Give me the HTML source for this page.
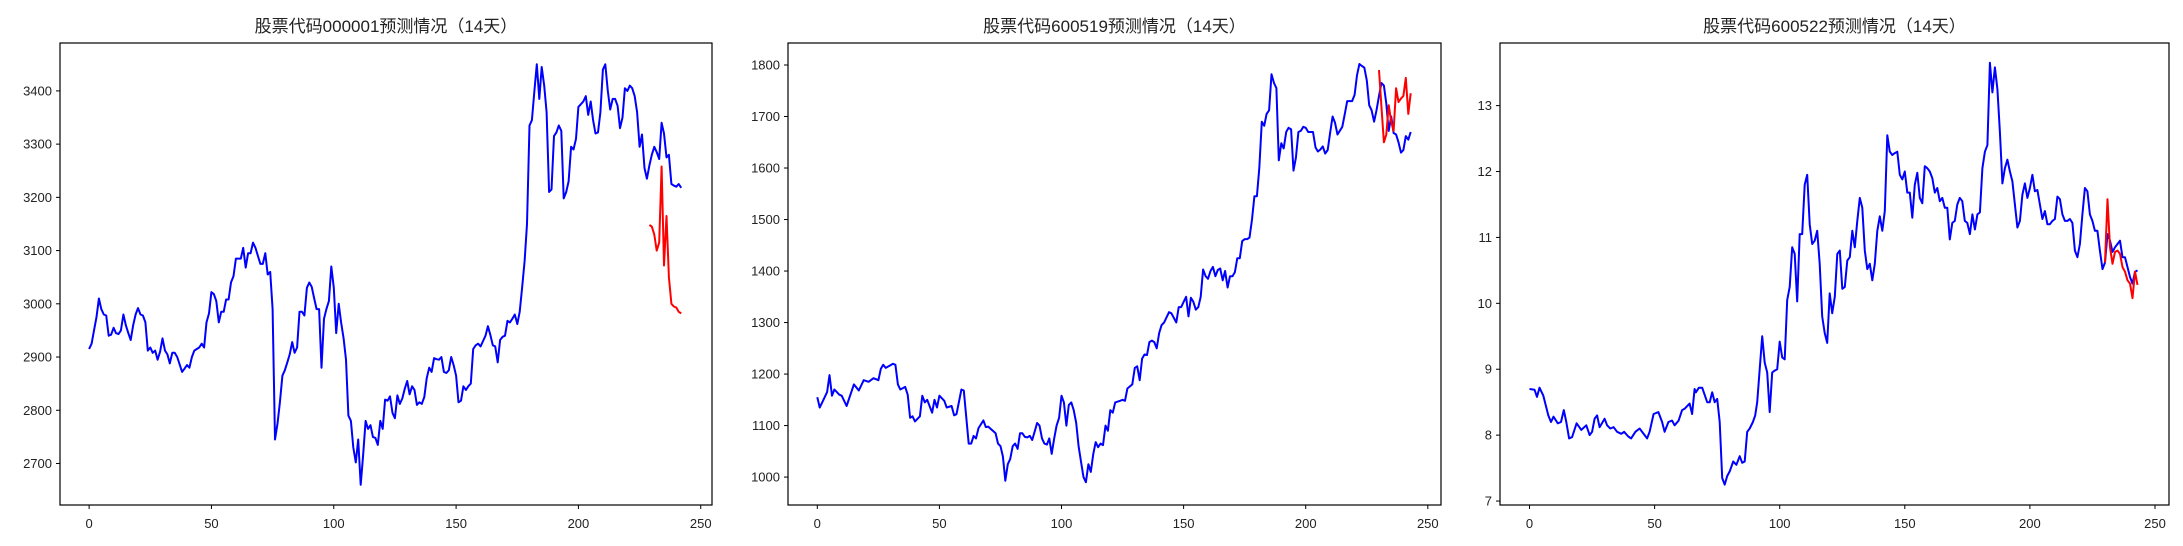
<!DOCTYPE html>
<html><head><meta charset="utf-8">
<style>
html,body{margin:0;padding:0;background:#fff;}
svg{display:block;}
text{font-family:"Liberation Sans","Noto Sans CJK SC",sans-serif;fill:#222;}
</style></head>
<body>
<svg id="chart" width="2183" height="546" viewBox="0 0 2183 546" xmlns="http://www.w3.org/2000/svg"></svg>
<script>
// Panel 1: 000001
const p1Days = [0,1,2,3,4,5,6,7,8,9,10,11,12,13,14,15,16,17,18,19,20,21,22,23,24,25,26,27,28,29,30,31,32,33,34,35,36,38,39,40,41,42,43,45,46,47,48,49,50,51,52,53,54,55,56,57,58,59,60,61,62,63,64,65,66,67,68,69,70,71,72,73,74,75,76,77,78,79,80,81,82,83,84,85,86,87,88,89,90,91,92,93,94,95,96,97,98,99,100,101,102,103,104,105,106,107,108,109,110,111,112,113,114,115,116,117,118,119,120,121,122,123,124,125,126,127,128,129,130,131,132,133,134,135,136,137,138,139,140,141,142,143,144,145,146,147,148,149,150,151,152,153,154,155,156,157,158,159,160,161,162,163,164,165,166,167,168,169,170,171,172,173,174,175,176,177,178,179,180,181,182,183,184,185,186,187,188,189,190,191,192,193,194,195,196,197,198,199,200,201,202,203,204,205,206,207,208,209,210,211,212,213,214,215,216,217,218,219,220,221,222,223,224,225,226,227,228,229,230,231,232,233,234,235,236,237,238,239,240,241,242];
const p1Actual = [2915,2925,2950,2975,3010,2990,2980,2978,2940,2942,2955,2945,2943,2950,2980,2960,2945,2932,2960,2980,2992,2980,2978,2965,2912,2918,2908,2912,2895,2910,2935,2912,2905,2888,2908,2908,2900,2872,2878,2885,2880,2900,2912,2918,2925,2918,2965,2982,3022,3018,3005,2965,2985,2985,3008,3008,3040,3052,3085,3085,3085,3105,3068,3095,3095,3115,3105,3090,3075,3075,3095,3055,3060,2990,2745,2775,2815,2865,2875,2890,2905,2928,2908,2918,2985,2985,2978,3030,3040,3032,3010,2990,2990,2880,2972,2990,3005,3070,3030,2945,3000,2965,2935,2895,2790,2780,2730,2702,2745,2660,2715,2780,2765,2772,2750,2748,2735,2780,2765,2820,2818,2826,2795,2785,2828,2812,2822,2840,2855,2830,2845,2838,2810,2815,2812,2825,2860,2880,2872,2898,2896,2895,2900,2872,2870,2875,2900,2885,2865,2815,2818,2845,2838,2845,2850,2915,2922,2925,2920,2930,2940,2958,2942,2922,2920,2890,2932,2938,2940,2968,2965,2972,2980,2962,2985,3030,3080,3150,3335,3345,3400,3450,3385,3445,3410,3360,3210,3215,3315,3322,3335,3325,3198,3210,3230,3295,3290,3310,3370,3375,3380,3390,3355,3380,3345,3320,3322,3360,3440,3450,3400,3365,3385,3385,3372,3330,3350,3405,3400,3410,3405,3390,3360,3295,3318,3255,3235,3260,3280,3295,3285,3272,3340,3320,3275,3280,3225,3222,3220,3225,3218];
const p1PredDays = [229,230,231,232,233,234,235,236,237,238,239,240,241,242];
const p1Pred = [3148,3145,3130,3100,3115,3258,3072,3165,3050,3000,2995,2993,2985,2982];
const p1YTicks = [2700,2800,2900,3000,3100,3200,3300,3400];

// Panel 2: 600519
const p2Days = [0,1,2,4,5,6,7,9,10,12,15,17,19,21,23,25,26,27,28,31,32,33,34,36,37,38,39,40,42,43,44,45,47,48,49,50,52,53,55,56,57,59,60,62,63,64,65,66,68,69,70,73,74,75,76,77,78,79,80,81,82,83,84,85,86,87,88,89,90,91,92,93,94,95,96,97,98,99,100,101,102,103,104,105,106,107,108,109,110,111,112,113,114,115,116,117,118,119,120,121,122,124,125,126,127,129,130,131,132,133,134,135,136,137,138,139,140,141,142,143,144,145,147,148,149,150,151,152,153,154,155,156,157,158,159,160,161,162,163,164,165,166,167,168,169,170,171,172,173,174,175,176,177,178,179,180,181,182,183,184,185,186,187,188,189,190,191,192,193,194,195,196,197,198,199,200,201,203,204,205,206,207,208,209,210,211,212,213,215,216,217,219,220,221,222,223,224,225,226,227,228,229,230,231,232,233,234,235,236,237,238,239,240,241,242,243];
const p2Actual = [1155,1135,1145,1165,1198,1158,1170,1160,1158,1138,1180,1168,1188,1185,1192,1188,1210,1218,1212,1220,1218,1180,1170,1175,1160,1115,1118,1108,1118,1158,1145,1150,1125,1150,1135,1158,1148,1135,1138,1120,1122,1170,1168,1065,1065,1080,1075,1095,1110,1097,1098,1085,1065,1060,1040,993,1025,1035,1060,1065,1055,1085,1085,1078,1077,1080,1072,1088,1105,1100,1075,1065,1063,1075,1045,1075,1100,1115,1158,1145,1100,1140,1145,1130,1105,1060,1030,1000,990,1025,1010,1045,1068,1058,1065,1062,1100,1090,1130,1125,1145,1148,1150,1148,1172,1180,1212,1215,1188,1230,1238,1237,1262,1265,1262,1250,1280,1295,1300,1310,1320,1318,1300,1330,1330,1340,1350,1312,1348,1340,1325,1330,1350,1403,1390,1385,1400,1408,1390,1402,1405,1382,1400,1368,1390,1390,1398,1425,1425,1458,1462,1462,1465,1500,1545,1545,1600,1690,1682,1705,1712,1782,1765,1755,1615,1648,1638,1670,1678,1675,1595,1620,1670,1672,1680,1678,1670,1670,1640,1632,1636,1642,1628,1635,1668,1700,1688,1665,1680,1705,1730,1730,1742,1780,1802,1798,1795,1770,1722,1712,1690,1712,1740,1765,1760,1725,1672,1700,1668,1665,1650,1630,1635,1662,1655,1670];
const p2PredDays = [230,231,232,233,234,235,236,237,238,239,240,241,242,243];
const p2Pred = [1790,1720,1650,1665,1722,1690,1672,1755,1728,1735,1740,1775,1705,1745];
const p2YTicks = [1000,1100,1200,1300,1400,1500,1600,1700,1800];

// Panel 3: 600522
const p3Days = [0,2,3,4,5.5,6.5,7.5,8.6,9.6,11.3,12.6,13.7,14.7,15.8,17,18.8,20.7,22.7,24,25,26,27,28,30,31,32.3,33.6,35,36.7,37.8,39.5,40.6,42.3,44,46,47,48,49.6,51.5,53,54,55.5,57,58,59.6,61,62,64,65,66,66.5,67.7,69,71,72,73,74,75,76,77,78,79,80,81.4,82.7,84,85,86,87,88,89.3,90.2,91,92,93,94,95,96,97,98,99,100,101,102,103,104,105,106,107,108,109,110,111,112,113,114,115,116,117,118,119,120,121,122,123,124,125,126,127,128,129,130,131,132,133,134,135,136,137,138,139,140,141,142,143,144,145,146,147,148,149,150,151,152,153,154,155,156,157,158,159,160,161,162,163,164,165,166,167,168,169,170,171,172,173,174,175,176,177,178,179,180,181,182,183,184,185,186,187,188,189,190,191,192,193,194,195,196,197,198,199,200,201,202,203,204,205,206,207,208,209,210,211,212,213,214,215,216,217,218,219,220,221,222,223,224,225,226,227,228,229,230,231,232,233,234,235,236,237,238,239,240,241,242,243];
const p3Actual = [8.7,8.69,8.58,8.72,8.6,8.45,8.3,8.2,8.28,8.18,8.2,8.38,8.2,7.95,7.97,8.18,8.08,8.15,8.0,8.05,8.25,8.3,8.12,8.25,8.15,8.1,8.12,8.05,8.02,8.05,7.98,7.95,8.05,8.1,8.0,7.95,8.05,8.32,8.35,8.2,8.05,8.2,8.22,8.15,8.22,8.38,8.4,8.48,8.32,8.7,8.65,8.72,8.72,8.5,8.5,8.65,8.5,8.55,8.2,7.35,7.25,7.38,7.45,7.6,7.55,7.68,7.58,7.6,8.05,8.1,8.2,8.3,8.5,9.0,9.5,9.1,8.95,8.35,8.95,8.98,9.0,9.42,9.18,9.15,10.05,10.25,10.85,10.75,10.03,11.05,11.05,11.8,11.95,11.2,10.9,10.95,11.1,10.6,9.8,9.55,9.4,10.15,9.85,10.1,10.75,10.8,10.22,10.25,10.65,10.7,11.1,10.85,11.25,11.6,11.45,10.8,10.52,10.6,10.35,10.6,11.1,11.32,11.1,11.4,12.55,12.3,12.25,12.28,12.3,11.95,11.88,12.0,11.68,11.68,11.3,11.8,11.98,11.6,11.52,12.08,12.05,12.0,11.9,11.68,11.75,11.55,11.6,11.45,11.45,10.97,11.22,11.25,11.5,11.6,11.55,11.25,11.22,11.05,11.35,11.12,11.35,11.38,12.05,12.3,12.4,13.65,13.2,13.58,13.25,12.6,11.82,12.05,12.18,12.0,11.85,11.5,11.15,11.25,11.65,11.82,11.6,11.75,11.95,11.7,11.72,11.5,11.28,11.4,11.2,11.2,11.25,11.28,11.62,11.58,11.35,11.25,11.25,11.28,11.22,10.8,10.7,10.9,11.35,11.75,11.7,11.35,11.25,11.1,11.1,10.8,10.52,10.62,11.05,10.95,10.78,10.85,10.9,10.95,10.7,10.7,10.55,10.4,10.3,10.48,10.5];
const p3PredDays = [230,231,232,233,234,235,236,237,238,239,240,241,242,243];
const p3Pred = [10.62,11.58,10.85,10.6,10.78,10.8,10.75,10.55,10.48,10.35,10.3,10.08,10.48,10.28];
const p3YTicks = [7,8,9,10,11,12,13];

const xTickLabels = [0,50,100,150,200,250];
const titles = ["股票代码000001预测情况（14天）","股票代码600519预测情况（14天）","股票代码600522预测情况（14天）"];

const NS = "http://www.w3.org/2000/svg";
const svg = document.getElementById('chart');
function mk(tag, attrs, parent){
  const e = document.createElementNS(NS, tag);
  for (const k in attrs) e.setAttribute(k, attrs[k]);
  (parent||svg).appendChild(e);
  return e;
}

const panels = [
  {box:[60,43,712,505], xd:[-11.9,254.6], yd:[2622,3490], days:p1Days, act:p1Actual, pd:p1PredDays, pv:p1Pred, yt:p1YTicks, key:'000001'},
  {box:[788,43,1441,505], xd:[-12.0,255.4], yd:[945.8,1842.7], days:p2Days, act:p2Actual, pd:p2PredDays, pv:p2Pred, yt:p2YTicks, key:'600519'},
  {box:[1500,43,2169,505], xd:[-11.8,255.6], yd:[6.94,13.95], days:p3Days, act:p3Actual, pd:p3PredDays, pv:p3Pred, yt:p3YTicks, key:'600522'}
];

panels.forEach((p, i) => {
  const [L,T,R,B] = p.box;
  const xs = v => L + (v - p.xd[0]) / (p.xd[1] - p.xd[0]) * (R - L);
  const ys = v => B - (v - p.yd[0]) / (p.yd[1] - p.yd[0]) * (B - T);
  const g = mk('g', {});
  
  

  const title = mk('text', {x:(L+R)/2, y:T-11, 'text-anchor':'middle', 'font-size':'17'}, g);
  title.textContent = titles[i];
  
  

  // x ticks
  xTickLabels.forEach(t => {
    const x = xs(t);
    const tk = mk('line', {x1:x, x2:x, y1:B, y2:B+4, stroke:'#000', 'stroke-width':1}, g);
    
    
    const lb = mk('text', {x:x, y:B+23, 'text-anchor':'middle', 'font-size':'13'}, g);
    lb.textContent = t;
    
    
  });
  // y ticks
  p.yt.forEach(t => {
    const y = ys(t);
    const tk = mk('line', {x1:L-4, x2:L, y1:y, y2:y, stroke:'#000', 'stroke-width':1}, g);
    
    
    const lb = mk('text', {x:L-8, y:y+4.5, 'text-anchor':'end', 'font-size':'13'}, g);
    lb.textContent = t;
    
    
  });

  const actualPts = p.days.map((d, k) => xs(d).toFixed(1) + ',' + ys(p.act[k]).toFixed(1)).join(' ');
  const la = mk('polyline', {points:actualPts, fill:'none', stroke:'#0000ff', 'stroke-width':2, 'stroke-linejoin':'round'}, g);
  
  

  const predPts = p.pd.map((d, k) => xs(d).toFixed(1) + ',' + ys(p.pv[k]).toFixed(1)).join(' ');
  const lp = mk('polyline', {points:predPts, fill:'none', stroke:'#ff0000', 'stroke-width':2, 'stroke-linejoin':'round'}, g);
  
  

  const frame = mk('rect', {x:L, y:T, width:R-L, height:B-T, fill:'none', stroke:'#000', 'stroke-width':1.2}, g);
  
  
});
</script>
</body></html>
